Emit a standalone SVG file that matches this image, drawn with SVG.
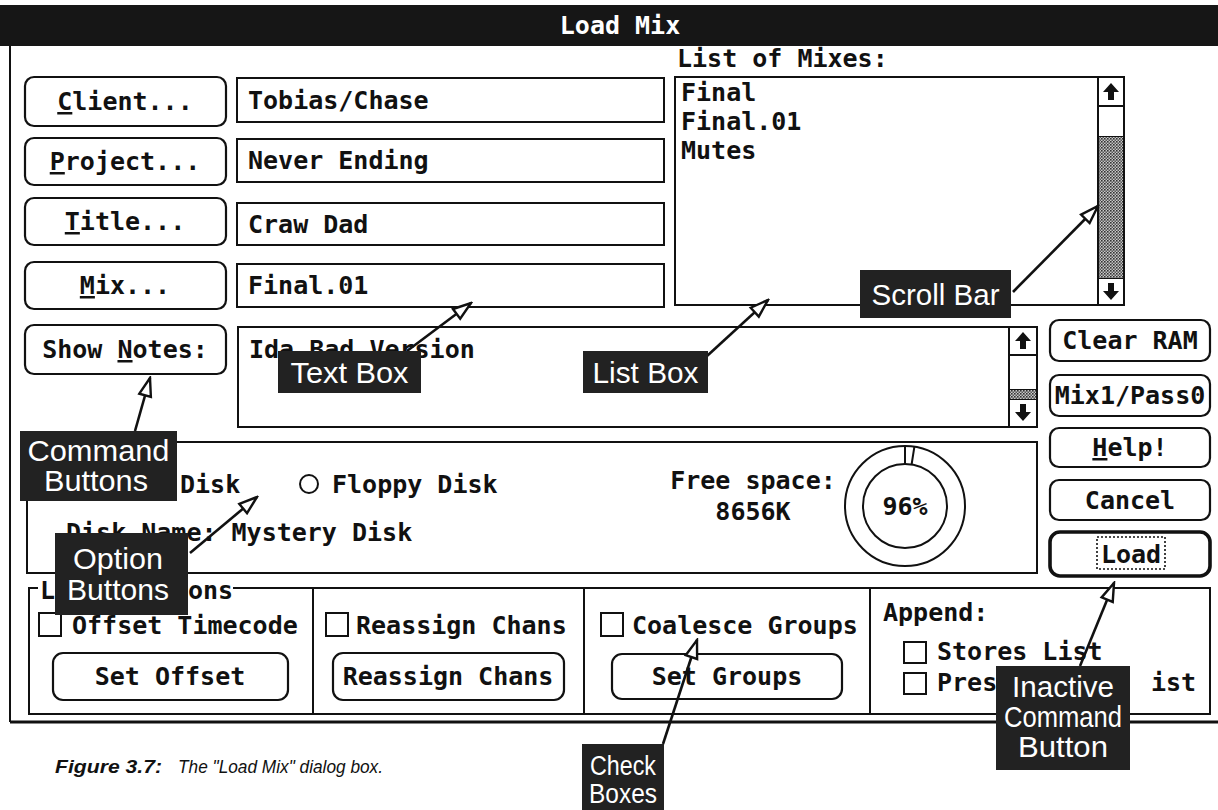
<svg xmlns="http://www.w3.org/2000/svg" width="1218" height="810" viewBox="0 0 1218 810">
<style>
.ln{fill:none;stroke:#111;stroke-width:2}
.box{fill:#fff;stroke:#111;stroke-width:2}
.btn{fill:#fff;stroke:#111;stroke-width:2.2}
.t{font-family:"DejaVu Sans Mono","Liberation Mono",monospace;font-weight:bold;font-size:25px;fill:#111}
.c{text-anchor:middle}
.u{text-decoration:underline}
.lab{fill:#222}
.lt{font-family:"Liberation Sans",Arial,sans-serif;font-size:29px;fill:#fff;text-anchor:middle}
.arr{fill:none;stroke:#111;stroke-width:2.6;marker-end:url(#head)}
.glyph{fill:#111}
.cap{font-family:"Liberation Sans",Arial,sans-serif;font-style:italic;font-size:19px;fill:#111}
</style>
<defs>
<marker id="head" viewBox="0 0 22 16" refX="20" refY="8" markerWidth="22" markerHeight="16" markerUnits="userSpaceOnUse" orient="auto">
<path d="M2,2 L20,8 L2,14 Z" fill="#fff" stroke="#111" stroke-width="2.4" stroke-linejoin="miter"/>
</marker>
<pattern id="dots" width="3" height="3" patternUnits="userSpaceOnUse">
<rect width="3" height="3" fill="#c8c8c8"/>
<rect width="1.6" height="1.6" fill="#333"/>
<rect x="1.5" y="1.5" width="1.5" height="1.5" fill="#555"/>
</pattern>
</defs>
<rect width="1218" height="810" fill="#fff"/>

<g id="dialog-frame">
<rect x="0" y="5" width="1218" height="41" fill="#161616"/>
<text x="620" y="34" class="t c" style="fill:#fff">Load Mix</text>
<path class="ln" d="M10,46 V722" />
<path d="M10,722 H1218" fill="none" stroke="#111" stroke-width="3"/>
</g>

<g id="btn-client"><rect class="btn" x="25" y="77" width="201" height="49" rx="9"/><text x="125" y="110" class="t c"><tspan class="u">C</tspan>lient...</text></g>
<g id="btn-project"><rect class="btn" x="25" y="138" width="201" height="47" rx="9"/><text x="125" y="170" class="t c"><tspan class="u">P</tspan>roject...</text></g>
<g id="btn-title"><rect class="btn" x="25" y="198" width="201" height="47" rx="9"/><text x="125" y="230" class="t c"><tspan class="u">T</tspan>itle...</text></g>
<g id="btn-mix"><rect class="btn" x="25" y="262" width="201" height="47" rx="9"/><text x="125" y="294" class="t c"><tspan class="u">M</tspan>ix...</text></g>
<g id="btn-shownotes"><rect class="btn" x="25" y="325" width="201" height="49" rx="9"/><text x="125" y="358" class="t c">Show <tspan class="u">N</tspan>otes:</text></g>

<g id="field-client"><rect class="box" x="237" y="78" width="427" height="44"/><text x="248" y="109" class="t">Tobias/Chase</text></g>
<g id="field-project"><rect class="box" x="237" y="139" width="427" height="43"/><text x="248" y="169" class="t">Never Ending</text></g>
<g id="field-title"><rect class="box" x="237" y="203" width="427" height="42"/><text x="248" y="233" class="t">Craw Dad</text></g>
<g id="field-mix"><rect class="box" x="237" y="264" width="427" height="43"/><text x="248" y="294" class="t">Final.01</text></g>

<g id="notes-box">
<rect class="box" x="238" y="327" width="799" height="100"/>
<text x="249" y="358" class="t">Ida Bad Version</text>
<path class="ln" d="M1009,327 V427 M1009,355 H1037 M1009,390 H1037 M1009,399 H1037"/>
<rect x="1010" y="390" width="26" height="9" fill="url(#dots)"/>
<path class="glyph" d="M1023,332 L1031,341 L1026,341 L1026,349 L1020,349 L1020,341 L1015,341 Z"/>
<path class="glyph" d="M1023,421 L1031,412 L1026,412 L1026,404 L1020,404 L1020,412 L1015,412 Z"/>
</g>

<g id="list-of-mixes">
<text x="677" y="67" class="t">List of Mixes:</text>
<rect class="box" x="675" y="77" width="449" height="228"/>
<text x="681" y="101" class="t">Final</text>
<text x="681" y="130" class="t">Final.01</text>
<text x="681" y="159" class="t">Mutes</text>
<path class="ln" d="M1098,77 V305 M1098,106 H1124 M1098,137 H1124 M1098,278 H1124"/>
<rect x="1099" y="137" width="24" height="141" fill="url(#dots)"/>
<path class="glyph" d="M1111,83 L1119,92 L1114,92 L1114,100 L1108,100 L1108,92 L1103,92 Z"/>
<path class="glyph" d="M1111,300 L1119,291 L1114,291 L1114,283 L1108,283 L1108,291 L1103,291 Z"/>
</g>

<g id="btn-clearram"><rect class="btn" x="1050" y="320" width="160" height="41" rx="9"/><text x="1130" y="349" class="t c">Clear RAM</text></g>
<g id="btn-mixpass"><rect class="btn" x="1050" y="375" width="160" height="41" rx="9"/><text x="1130" y="404" class="t c">Mix1/Pass0</text></g>
<g id="btn-help"><rect class="btn" x="1050" y="428" width="160" height="39" rx="9"/><text x="1130" y="456" class="t c"><tspan class="u">H</tspan>elp!</text></g>
<g id="btn-cancel"><rect class="btn" x="1050" y="480" width="160" height="40" rx="9"/><text x="1130" y="509" class="t c">Cancel</text></g>
<g id="btn-load"><rect x="1050" y="532" width="160" height="44" rx="10" fill="#fff" stroke="#111" stroke-width="3.6"/><rect x="1097" y="537" width="68" height="32" fill="none" stroke="#111" stroke-width="1.6" stroke-dasharray="2 2"/><text x="1131" y="563" class="t c">Load</text></g>

<g id="disk-section">
<path class="ln" d="M27,442 H1037 V573 H27 Z"/>
<text x="180" y="493" class="t">Disk</text>
<circle cx="309" cy="484" r="9" class="ln"/>
<text x="332" y="493" class="t">Floppy Disk</text>
<text x="66" y="541" class="t">Disk Name: Mystery Disk</text>
<text x="753" y="489" class="t c">Free space:</text>
<text x="753" y="520" class="t c">8656K</text>
<circle cx="905" cy="506" r="60" class="ln"/>
<circle cx="905" cy="506" r="42" class="ln"/>
<path class="ln" d="M905,446 V464 M914.4,446.7 L911.6,464.5"/>
<text x="905" y="515" class="t c">96%</text>
</g>

<g id="options-section">
<path class="ln" d="M38,588 H29 V714 H1210 V588 H233 M313,588 V714 M584,588 V714 M870,588 V714"/>
<text x="40" y="599" class="t">L</text>
<text x="188" y="599" class="t">ons</text>
<rect class="box" x="39" y="613" width="22" height="23"/>
<text x="72" y="634" class="t">Offset Timecode</text>
<rect class="box" x="326" y="613" width="22" height="23"/>
<text x="356" y="634" class="t">Reassign Chans</text>
<rect class="box" x="601" y="613" width="22" height="23"/>
<text x="632" y="634" class="t">Coalesce Groups</text>
<rect class="btn" x="53" y="653" width="235" height="47" rx="10"/>
<text x="170" y="685" class="t c">Set Offset</text>
<rect class="btn" x="333" y="653" width="231" height="47" rx="10"/>
<text x="448" y="685" class="t c">Reassign Chans</text>
<rect class="btn" x="612" y="654" width="230" height="45" rx="10"/>
<text x="727" y="685" class="t c">Set Groups</text>
<text x="883" y="621" class="t">Append:</text>
<rect class="box" x="904" y="642" width="22" height="21"/>
<text x="937" y="660" class="t">Stores List</text>
<rect class="box" x="904" y="673" width="22" height="21"/>
<text x="937" y="691" class="t">Pres</text>
<text x="1151" y="691" class="t">ist</text>
</g>

<g id="connectors">
<path class="arr" d="M407,351 L471,303"/>
<path class="arr" d="M707,356 L768,300"/>
<path class="arr" d="M1013,292 L1098,206"/>
<path class="arr" d="M135,431 L150,378"/>
<path class="arr" d="M190,553 L257,497"/>
<path class="arr" d="M1080,666 L1114,583"/>
<path class="arr" d="M663,744 L697,640"/>
</g>

<g id="label-textbox"><rect class="lab" x="278" y="351" width="143" height="42"/><text x="349.5" y="383" class="lt" textLength="118" lengthAdjust="spacingAndGlyphs">Text Box</text></g>
<g id="label-listbox"><rect class="lab" x="583" y="351" width="125" height="42"/><text x="645.5" y="383" class="lt" textLength="106" lengthAdjust="spacingAndGlyphs">List Box</text></g>
<g id="label-scrollbar"><rect class="lab" x="860" y="270" width="151" height="48"/><text x="935.5" y="305" class="lt" textLength="128" lengthAdjust="spacingAndGlyphs">Scroll Bar</text></g>
<g id="label-command"><rect class="lab" x="20" y="431" width="157" height="70"/><text x="98.5" y="461" class="lt" textLength="142" lengthAdjust="spacingAndGlyphs">Command</text><text x="96" y="491" class="lt" textLength="104" lengthAdjust="spacingAndGlyphs">Buttons</text></g>
<g id="label-option"><rect class="lab" x="55" y="533" width="133" height="82"/><text x="118" y="569" class="lt" textLength="90" lengthAdjust="spacingAndGlyphs">Option</text><text x="118" y="600" class="lt" textLength="102" lengthAdjust="spacingAndGlyphs">Buttons</text></g>
<g id="label-inactive"><rect class="lab" x="996" y="666" width="134" height="104"/><text x="1063" y="697" class="lt" textLength="102" lengthAdjust="spacingAndGlyphs">Inactive</text><text x="1063" y="727" class="lt" textLength="118" lengthAdjust="spacingAndGlyphs">Command</text><text x="1063" y="757" class="lt" textLength="90" lengthAdjust="spacingAndGlyphs">Button</text></g>
<g id="label-check"><rect class="lab" x="582" y="744" width="82" height="66"/><text x="623" y="775" class="lt" style="font-size:27px" textLength="66" lengthAdjust="spacingAndGlyphs">Check</text><text x="623" y="803" class="lt" style="font-size:27px" textLength="68" lengthAdjust="spacingAndGlyphs">Boxes</text></g>

<g id="caption">
<text x="55" y="773" class="cap" style="font-weight:bold" textLength="107" lengthAdjust="spacingAndGlyphs">Figure 3.7:</text>
<text x="178" y="773" class="cap" textLength="205" lengthAdjust="spacingAndGlyphs">The "Load Mix" dialog box.</text>
</g>
</svg>
